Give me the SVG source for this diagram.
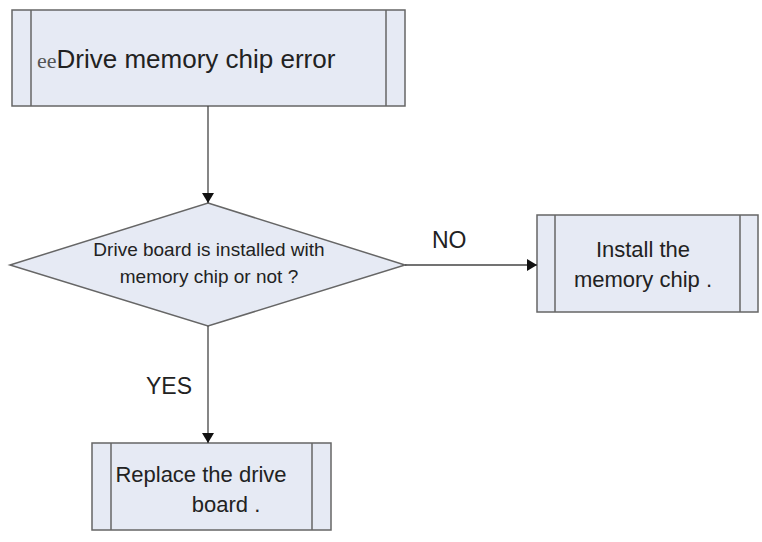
<svg xmlns="http://www.w3.org/2000/svg" width="762" height="542" viewBox="0 0 762 542">
<style>
.b{fill:#e6eaf4;stroke:#666;stroke-width:1.5}
.l{stroke:#666;stroke-width:1.5}
text{font-family:"Liberation Sans",Arial,sans-serif;fill:#222}
.c{stroke:#444;stroke-width:1.3;fill:none}
</style>
<defs><marker id="a" markerWidth="10" markerHeight="12" refX="10" refY="6" orient="auto" markerUnits="userSpaceOnUse"><path d="M0,0L10,6L0,12z" fill="#111"/></marker></defs>
<rect width="762" height="542" fill="#fff"/>
<g id="start"><rect class="b" x="12" y="10" width="393" height="96"/><line class="l" x1="31" y1="10" x2="31" y2="106"/><line class="l" x1="386" y1="10" x2="386" y2="106"/><text x="37" y="68" font-size="26"><tspan font-family="Liberation Serif" font-size="22" fill="#555">ee</tspan>Drive memory chip error</text></g>
<g id="decision"><polygon class="b" points="208,203 405,265 208,326 10,265"/><text x="209" y="256" font-size="19" text-anchor="middle">Drive board is installed with</text><text x="209" y="283" font-size="19" text-anchor="middle">memory chip or not ?</text></g>
<g id="install"><rect class="b" x="537" y="215" width="221" height="97"/><line class="l" x1="555" y1="215" x2="555" y2="312"/><line class="l" x1="740" y1="215" x2="740" y2="312"/><text x="643" y="257" font-size="22" text-anchor="middle">Install the</text><text x="643" y="287" font-size="22" text-anchor="middle">memory chip .</text></g>
<g id="replace"><rect class="b" x="92" y="443" width="239" height="87"/><line class="l" x1="111" y1="443" x2="111" y2="530"/><line class="l" x1="312" y1="443" x2="312" y2="530"/><text x="201" y="482" font-size="22" text-anchor="middle">Replace the drive</text><text x="226" y="512" font-size="22" text-anchor="middle">board .</text></g>
<g id="connectors">
<line class="c" x1="208" y1="106" x2="208" y2="203" marker-end="url(#a)"/>
<line class="c" x1="405" y1="265" x2="537" y2="265" marker-end="url(#a)"/>
<line class="c" x1="208" y1="326" x2="208" y2="443" stroke="#999" marker-end="url(#a)"/>
<text x="432" y="248" font-size="23">NO</text>
<text x="146" y="394" font-size="23">YES</text>
</g>
</svg>
